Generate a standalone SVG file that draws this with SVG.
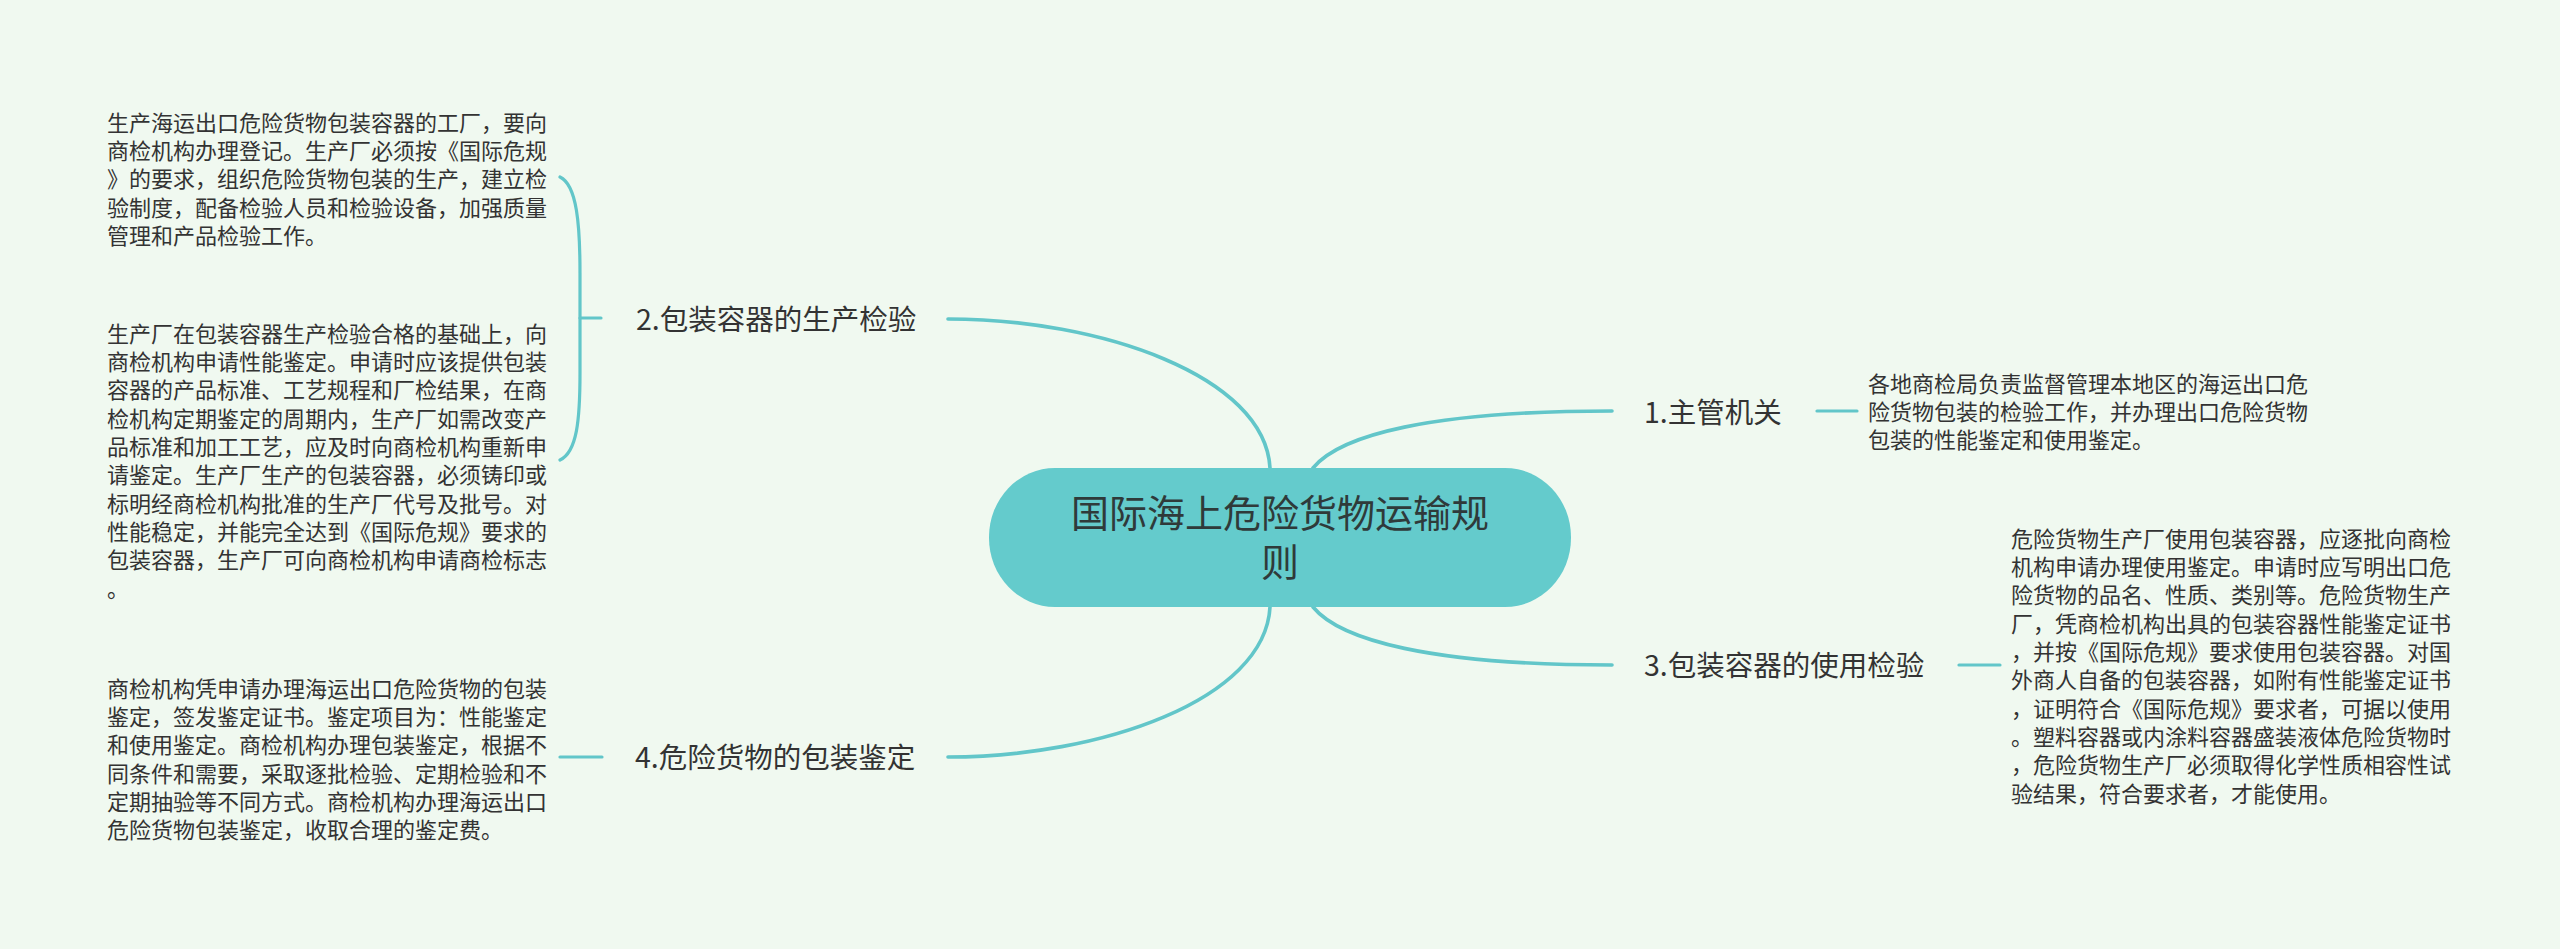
<svg xmlns="http://www.w3.org/2000/svg" width="2560" height="949" viewBox="0 0 2560 949">
<defs>
<style>
.bg{fill:#F0F9F0}
.ln{fill:none;stroke:#62C6C9;stroke-width:3.2;stroke-linecap:round}
.main{fill:none;stroke:#62C6C9;stroke-width:3.6;stroke-linecap:round}
.root{fill:#64CBCC}
.rt{font-family:"Noto Sans CJK SC","Noto Sans",sans-serif;font-size:38px;fill:#2f3a3a}
.lb{font-family:"Noto Sans CJK SC","Noto Sans",sans-serif;font-size:28.5px;fill:#333333}
.tx{font-family:"Noto Sans CJK SC","Noto Sans",sans-serif;font-size:22px;fill:#333333}
</style>
</defs>
<rect class="bg" x="0" y="0" width="2560" height="949"/>

<g id="connectors">
<path class="main" d="M1270,468 C1265,376 1100,319 948,319"/>
<path class="main" d="M1270,607 C1265,700 1100,757 948,757"/>
<path class="main" d="M1313,468 C1340,435 1430,411 1612,411"/>
<path class="main" d="M1313,607 C1340,640 1430,665 1612,665"/>
<path class="ln" d="M1817,411 L1857,411"/>
<path class="ln" d="M1959,665 L2000,665"/>
<path class="ln" d="M602,757 L560,757"/>
<path class="ln" d="M601,318 L580,318"/>
<path class="ln" d="M560,177 C577,185 580,225 580,273 L580,373 C580,420 577,452 560,460"/>
</g>

<g id="root">
<rect class="root" x="989" y="468" width="582" height="139" rx="66" ry="69"/>
<text class="rt" text-anchor="middle"><tspan x="1280" y="527.4">国际海上危险货物运输规</tspan><tspan x="1280" y="576.4">则</tspan></text>
</g>

<g id="node1">
<text class="lb" x="1644" y="422.5">1.主管机关</text>
</g>
<g id="node1-detail">
<text class="tx"><tspan x="1868" y="391.8">各地商检局负责监督管理本地区的海运出口危</tspan><tspan x="1868" y="420.1">险货物包装的检验工作，并办理出口危险货物</tspan><tspan x="1868" y="448.4">包装的性能鉴定和使用鉴定。</tspan></text>
</g>

<g id="node2">
<text class="lb" x="636" y="329.8">2.包装容器的生产检验</text>
</g>
<g id="node2-detail-a">
<text class="tx"><tspan x="107" y="130.7">生产海运出口危险货物包装容器的工厂，要向</tspan><tspan x="107" y="159.0">商检机构办理登记。生产厂必须按《国际危规</tspan><tspan x="107" y="187.4">》的要求，组织危险货物包装的生产，建立检</tspan><tspan x="107" y="215.7">验制度，配备检验人员和检验设备，加强质量</tspan><tspan x="107" y="244.0">管理和产品检验工作。</tspan></text>
</g>
<g id="node2-detail-b">
<text class="tx"><tspan x="107" y="341.7">生产厂在包装容器生产检验合格的基础上，向</tspan><tspan x="107" y="370.0">商检机构申请性能鉴定。申请时应该提供包装</tspan><tspan x="107" y="398.4">容器的产品标准、工艺规程和厂检结果，在商</tspan><tspan x="107" y="426.7">检机构定期鉴定的周期内，生产厂如需改变产</tspan><tspan x="107" y="455.0">品标准和加工工艺，应及时向商检机构重新申</tspan><tspan x="107" y="483.4">请鉴定。生产厂生产的包装容器，必须铸印或</tspan><tspan x="107" y="511.7">标明经商检机构批准的生产厂代号及批号。对</tspan><tspan x="107" y="540.0">性能稳定，并能完全达到《国际危规》要求的</tspan><tspan x="107" y="568.3">包装容器，生产厂可向商检机构申请商检标志</tspan><tspan x="107" y="596.7">。</tspan></text>
</g>

<g id="node3">
<text class="lb" x="1644" y="675.8">3.包装容器的使用检验</text>
</g>
<g id="node3-detail">
<text class="tx"><tspan x="2011" y="546.7">危险货物生产厂使用包装容器，应逐批向商检</tspan><tspan x="2011" y="575.0">机构申请办理使用鉴定。申请时应写明出口危</tspan><tspan x="2011" y="603.4">险货物的品名、性质、类别等。危险货物生产</tspan><tspan x="2011" y="631.7">厂，凭商检机构出具的包装容器性能鉴定证书</tspan><tspan x="2011" y="660.0">，并按《国际危规》要求使用包装容器。对国</tspan><tspan x="2011" y="688.4">外商人自备的包装容器，如附有性能鉴定证书</tspan><tspan x="2011" y="716.7">，证明符合《国际危规》要求者，可据以使用</tspan><tspan x="2011" y="745.0">。塑料容器或内涂料容器盛装液体危险货物时</tspan><tspan x="2011" y="773.3">，危险货物生产厂必须取得化学性质相容性试</tspan><tspan x="2011" y="801.7">验结果，符合要求者，才能使用。</tspan></text>
</g>

<g id="node4">
<text class="lb" x="635" y="767.8">4.危险货物的包装鉴定</text>
</g>
<g id="node4-detail">
<text class="tx"><tspan x="107" y="696.7">商检机构凭申请办理海运出口危险货物的包装</tspan><tspan x="107" y="725.0">鉴定，签发鉴定证书。鉴定项目为：性能鉴定</tspan><tspan x="107" y="753.4">和使用鉴定。商检机构办理包装鉴定，根据不</tspan><tspan x="107" y="781.7">同条件和需要，采取逐批检验、定期检验和不</tspan><tspan x="107" y="810.0">定期抽验等不同方式。商检机构办理海运出口</tspan><tspan x="107" y="838.4">危险货物包装鉴定，收取合理的鉴定费。</tspan></text>
</g>
</svg>
